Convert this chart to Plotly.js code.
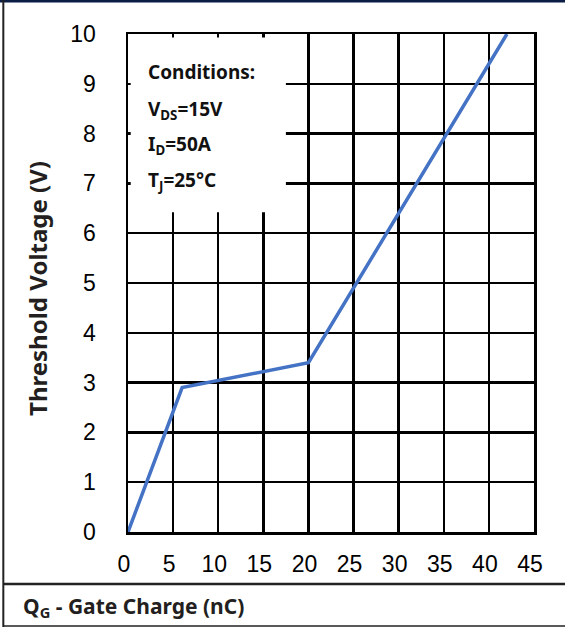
<!DOCTYPE html>
<html>
<head>
<meta charset="utf-8">
<script src="https://cdn.plot.ly/plotly-3.0.1.min.js"></script>
<style>
  html, body { margin: 0; padding: 0; background: #ffffff; }
  #chart { width: 565px; height: 627px; }
</style>
</head>
<body>
<div id="chart"></div>
<script>
// Data
const gateCharge = [0, 6, 20, 42];          // Q_G (nC)
const thresholdVoltage = [0, 2.9, 3.4, 10]; // V
const xTickVals = [0, 5, 10, 15, 20, 25, 30, 35, 40, 45];
const yTickVals = [0, 1, 2, 3, 4, 5, 6, 7, 8, 9, 10];
const conditionLines = [
  "Conditions:",
  "V<sub>DS</sub>=15V",
  "I<sub>D</sub>=50A",
  "T<sub>J</sub>=25°C"
];
const xTitle = "Q<sub>G</sub> - Gate Charge (nC)";
const yTitle = "Threshold Voltage (V)";

const textColor = "#231f20";
const boldFont = "Noto Sans, Open Sans, sans-serif";
const condY = [0.9237, 0.8474, 0.7771, 0.7048];

const trace = {
  x: gateCharge,
  y: thresholdVoltage,
  type: "scatter",
  mode: "lines",
  line: { color: "#4472C4", width: 3.5 },
  hoverinfo: "skip",
  showlegend: false
};

const annotations = conditionLines.map((t, i) => ({
  xref: "paper", yref: "paper",
  x: 0.0443, y: condY[i],
  xanchor: "left", yanchor: "middle",
  text: "<b>" + t + "</b>",
  showarrow: false,
  font: { family: boldFont, size: 19, color: "#111111" }
}));

annotations.push({
  xref: "paper", yref: "paper",
  x: -0.2635, y: -0.1506,
  xanchor: "left", yanchor: "middle",
  text: "<b>" + xTitle + "</b>",
  showarrow: false,
  font: { family: boldFont, size: 21, color: textColor }
});
annotations.push({
  xref: "paper", yref: "paper",
  x: -0.2217, y: 0.49,
  xanchor: "center", yanchor: "middle",
  textangle: -90,
  text: "<b>" + yTitle + "</b>",
  showarrow: false,
  font: { family: boldFont, size: 24, color: textColor }
});

const shapes = [
  // white box behind the conditions text
  { type: "rect", xref: "x", yref: "y", x0: 0.3, x1: 17.5, y0: 6.42, y1: 9.93,
    fillcolor: "#ffffff", line: { width: 0 }, layer: "above" },
  // frame lines of the figure
  { type: "line", xref: "paper", yref: "paper", x0: -0.3153, x1: 1.0764, y0: 1.0663, y1: 1.0663,
    line: { color: "#0b1d45", width: 3 } },
  { type: "line", xref: "paper", yref: "paper", x0: -0.3071, x1: -0.3071, y0: 1.0764, y1: -0.1908,
    line: { color: "#222222", width: 2 } },
  { type: "line", xref: "paper", yref: "paper", x0: -0.3071, x1: 1.0764, y0: -0.1044, y1: -0.1044,
    line: { color: "#222222", width: 2.5 } },
  { type: "line", xref: "paper", yref: "paper", x0: -0.3071, x1: 1.0764, y0: -0.1888, y1: -0.1888,
    line: { color: "#222222", width: 1.5 } }
];

const layout = {
  width: 565, height: 627,
  margin: { l: 128, r: 31, t: 34, b: 95, pad: 0 },
  paper_bgcolor: "#ffffff",
  plot_bgcolor: "#ffffff",
  showlegend: false,
  xaxis: {
    range: [0, 45],
    tickmode: "array", tickvals: xTickVals,
    ticktext: xTickVals.map(String),
    showgrid: true, gridcolor: "#000000", gridwidth: 2.5,
    showline: true, mirror: true, linecolor: "#000000", linewidth: 2.5,
    zeroline: false,
    ticks: "", ticklabelstandoff: 10, ticklabelshift: -4,
    tickfont: { family: "Liberation Sans, Arial, sans-serif", size: 23, color: "#000000" },
    fixedrange: true
  },
  yaxis: {
    range: [0, 10],
    tickmode: "array", tickvals: yTickVals,
    ticktext: yTickVals.map(String),
    showgrid: true, gridcolor: "#000000", gridwidth: 2.5,
    showline: true, mirror: true, linecolor: "#000000", linewidth: 2.5,
    zeroline: false,
    ticks: "", ticklabelstandoff: 25,
    tickfont: { family: "Liberation Sans, Arial, sans-serif", size: 23, color: "#000000" },
    fixedrange: true
  },
  shapes: shapes,
  annotations: annotations
};

Plotly.newPlot("chart", [trace], layout, { displayModeBar: false, staticPlot: true });
</script>
</body>
</html>
